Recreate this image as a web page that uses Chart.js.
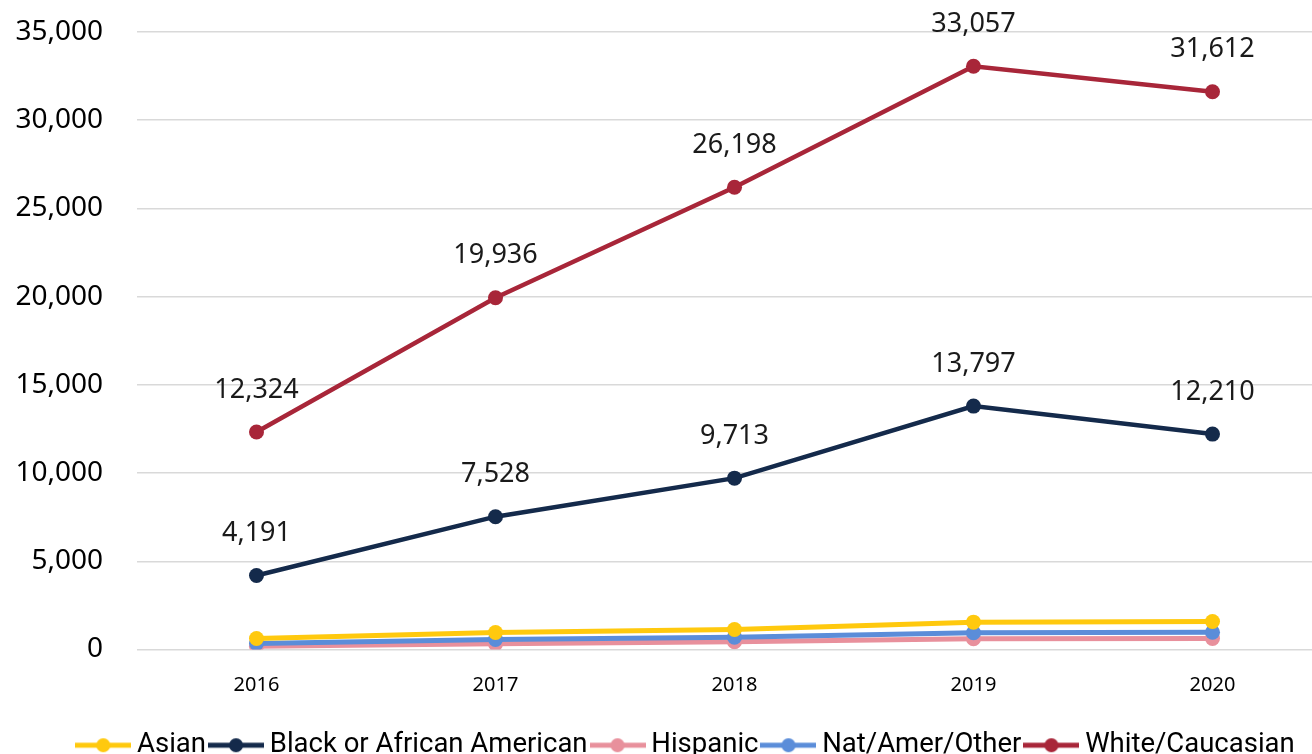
<!DOCTYPE html>
<html>
<head>
<meta charset="utf-8">
<script src="https://cdn.jsdelivr.net/npm/chart.js@4.4.1/dist/chart.umd.min.js"></script>
<style>
  html, body { margin: 0; padding: 0; overflow: hidden; background: #fff; width: 1312px; height: 754px; }
  #wrap { position: absolute; left: 0; top: 0; width: 1378px; height: 769px; }
</style>
</head>
<body>
<div id="wrap"><canvas id="c" width="1378" height="769"></canvas></div>
<script>
const years = ['2016', '2017', '2018', '2019', '2020'];
const asian = [620, 960, 1130, 1550, 1590];
const black = [4191, 7528, 9713, 13797, 12210];
const hispanic = [190, 320, 440, 610, 620];
const natAmer = [340, 570, 700, 950, 980];
const white = [12324, 19936, 26198, 33057, 31612];
const seriesNames = ['Asian', 'Black or African American', 'Hispanic', 'Nat/Amer/Other', 'White/Caucasian'];
const yTicks = [0, 5000, 10000, 15000, 20000, 25000, 30000, 35000];

const colors = ['#FFC90E', '#142A4B', '#E8909C', '#5B8DD9', '#A82639'];

function legendMarker(color) {
  const c = document.createElement('canvas');
  c.width = 56; c.height = 16;
  const g = c.getContext('2d');
  g.strokeStyle = color; g.lineWidth = 5; g.lineCap = 'butt';
  g.beginPath(); g.moveTo(0, 8); g.lineTo(56, 8); g.stroke();
  g.fillStyle = color;
  g.beginPath(); g.arc(28, 8, 7, 0, Math.PI * 2); g.fill();
  return c;
}
const markers = colors.map(legendMarker);

const valueLabels = {
  id: 'valueLabels',
  afterDatasetsDraw(chart) {
    const ctx = chart.ctx;
    ctx.save();
    ctx.font = '27px "Noto Sans"';
    ctx.fillStyle = '#1a1a1a';
    ctx.textAlign = 'center';
    ctx.textBaseline = 'middle';
    chart.data.datasets.forEach((ds, i) => {
      if (!ds.showValues) return;
      const meta = chart.getDatasetMeta(i);
      meta.data.forEach((el, j) => {
        ctx.fillText(ds.data[j].toLocaleString('en-US'), el.x, el.y - 42);
      });
    });
    ctx.restore();
  }
};

const seriesData = [asian, black, hispanic, natAmer, white];
const orders = [1, 0, 3, 2, -1];
const widths = [5, 4.5, 5, 5, 4.5];

const datasets = seriesData.map((d, i) => ({
  label: seriesNames[i],
  data: d,
  borderColor: colors[i],
  backgroundColor: colors[i],
  borderWidth: widths[i],
  pointRadius: 7.5,
  pointHoverRadius: 7.5,
  pointBorderWidth: 0,
  tension: 0,
  order: orders[i],
  showValues: (i === 1 || i === 4)
}));

new Chart(document.getElementById('c'), {
  type: 'line',
  data: { labels: years, datasets: datasets },
  options: {
    responsive: false,
    animation: false,
    devicePixelRatio: 1,
    layout: { padding: { left: 0, right: 0, top: 32, bottom: 0 } },
    plugins: {
      tooltip: { enabled: false },
      legend: {
        position: 'bottom',
        labels: {
          usePointStyle: true,
          pointStyleWidth: 40,
          padding: 10,
          color: '#000',
          font: { family: 'Roboto', size: 27.5 },
          generateLabels(chart) {
            return chart.data.datasets.map((ds, i) => ({
              text: ds.label,
              pointStyle: markers[i],
              fillStyle: ds.borderColor,
              strokeStyle: ds.borderColor,
              lineWidth: 0,
              hidden: !chart.isDatasetVisible(i),
              datasetIndex: i
            }));
          }
        }
      }
    },
    scales: {
      x: {
        offset: true,
        grid: { display: false, drawTicks: false },
        border: { display: false },
        ticks: { color: '#000', font: { family: 'Noto Sans', size: 20 }, padding: 24 }
      },
      y: {
        min: 0,
        max: 35000,
        afterBuildTicks(scale) { scale.ticks = yTicks.map(v => ({ value: v })); },
        afterFit(scale) { scale.width = 137; scale.paddingTop = 0; scale.paddingBottom = 0; },
        grid: { color: '#D9D9D9', lineWidth: 1.5, drawTicks: false },
        border: { display: false },
        ticks: {
          color: '#000',
          font: { family: 'Noto Sans', size: 28 },
          padding: 34,
          callback: v => v.toLocaleString('en-US')
        }
      },
      yRight: {
        position: 'right',
        display: true,
        grid: { display: false, drawTicks: false },
        border: { display: false },
        ticks: { display: false },
        afterFit(scale) { scale.width = 46; scale.paddingTop = 0; scale.paddingBottom = 0; }
      }
    }
  },
  plugins: [valueLabels]
});
</script>
</body>
</html>
